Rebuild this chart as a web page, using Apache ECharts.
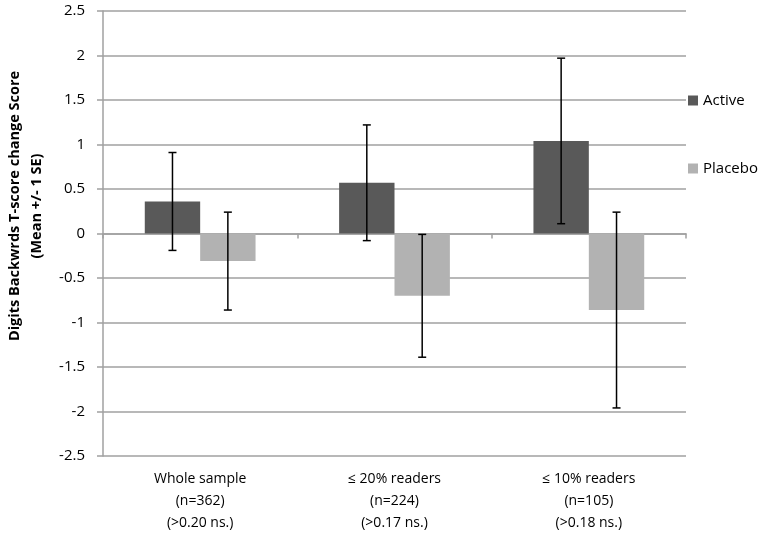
<!DOCTYPE html>
<html>
<head>
<meta charset="utf-8">
<script src="https://cdn.jsdelivr.net/npm/echarts@6/dist/echarts.min.js"></script>
<style>html,body{margin:0;padding:0;background:#fff}#c{width:762px;height:534px}</style>
</head>
<body>
<div id="c"></div>
<script>
var categories = ["Whole sample\n(n=362)\n(>0.20 ns.)", "\u2264 20% readers\n(n=224)\n(>0.17 ns.)", "\u2264 10% readers\n(n=105)\n(>0.18 ns.)"];
var activeMeans = [0.36, 0.57, 1.04];
var activeSE = [0.55, 0.65, 0.93];
var placeboMeans = [-0.31, -0.70, -0.86];
var placeboSE = [0.55, 0.69, 1.10];
var seriesNames = ["Active", "Placebo"];
var yTitle = "Digits Backwrds T-score change Score\n(Mean +/- 1 SE)";
var yTicks = {min: -2.5, max: 2.5, interval: 0.5};

var FONT = "'Open Sans', sans-serif";
var GRID = '#a0a0a0';
var BAR_FRAC = 0.285; // bar width as fraction of band (barCategoryGap 43%, barGap 0)

function errData(means, ses) {
  return means.map(function (m, i) { return [i, m, ses[i]]; });
}
function errSeries(means, ses, side) {
  return {
    type: 'custom',
    silent: true,
    z: 10,
    encode: {x: 0, y: 1},
    data: errData(means, ses),
    renderItem: function (params, api) {
      var i = api.value(0), m = api.value(1), se = api.value(2);
      var band = api.size([1, 0])[0];
      var off = side * band * BAR_FRAC / 2;
      var top = api.coord([i, m + se]);
      var bot = api.coord([i, m - se]);
      var x = top[0] + off;
      var cap = 4;
      var st = {stroke: '#000', lineWidth: 1.5};
      return {
        type: 'group',
        children: [
          {type: 'line', shape: {x1: x, y1: top[1], x2: x, y2: bot[1]}, style: st},
          {type: 'line', shape: {x1: x - cap, y1: top[1], x2: x + cap, y2: top[1]}, style: st},
          {type: 'line', shape: {x1: x - cap, y1: bot[1], x2: x + cap, y2: bot[1]}, style: st}
        ]
      };
    }
  };
}

var chart = echarts.init(document.getElementById('c'), null, {renderer: 'canvas'});
chart.setOption({
  animation: false,
  backgroundColor: '#fff',
  textStyle: {fontFamily: FONT},
  grid: {left: 103, right: 76, top: 11, bottom: 78, containLabel: false, outerBoundsMode: 'none'},
  graphic: [{
    type: 'text',
    x: 26,
    y: 206,
    rotation: Math.PI / 2,
    style: {
      text: yTitle,
      align: 'center',
      verticalAlign: 'middle',
      fontFamily: FONT,
      fontSize: 14.5,
      fontWeight: 'bold',
      lineHeight: 22,
      fill: '#000'
    }
  }],
  legend: {
    orient: 'vertical',
    left: 688,
    top: 93,
    padding: 0,
    itemGap: 53,
    itemWidth: 10,
    itemHeight: 10,
    icon: 'rect',
    textStyle: {fontFamily: FONT, fontSize: 15, color: '#000'},
    data: seriesNames
  },
  xAxis: [{
    type: 'category',
    data: categories,
    position: 'bottom',
    axisLine: {onZero: true, lineStyle: {color: GRID, width: 1.5}},
    axisTick: {show: true, length: 5, lineStyle: {color: GRID, width: 1.5}},
    axisLabel: {show: false},
    splitLine: {show: false}
  }, {
    type: 'category',
    data: categories,
    position: 'bottom',
    axisLine: {show: false, onZero: false},
    axisTick: {show: false},
    axisLabel: {show: true, margin: 12, fontFamily: FONT, fontSize: 14, color: '#000', lineHeight: 22}
  }],
  yAxis: {
    type: 'value',
    min: yTicks.min,
    max: yTicks.max,
    interval: yTicks.interval,
    axisLine: {show: true, lineStyle: {color: GRID, width: 1.5}},
    axisTick: {show: true, length: 6, lineStyle: {color: GRID, width: 1.5}},
    axisLabel: {margin: 18, fontFamily: FONT, fontSize: 15, color: '#000'},
    splitLine: {show: true, lineStyle: {color: GRID, width: 1.5}}
  },
  series: [{
    name: seriesNames[0],
    type: 'bar',
    data: activeMeans,
    itemStyle: {color: '#595959'},
    barGap: '0%',
    barCategoryGap: '43%'
  }, {
    name: seriesNames[1],
    type: 'bar',
    data: placeboMeans,
    itemStyle: {color: '#b2b2b2'},
    barGap: '0%',
    barCategoryGap: '43%'
  },
  errSeries(activeMeans, activeSE, -1),
  errSeries(placeboMeans, placeboSE, 1)
  ]
});
</script>
</body>
</html>
